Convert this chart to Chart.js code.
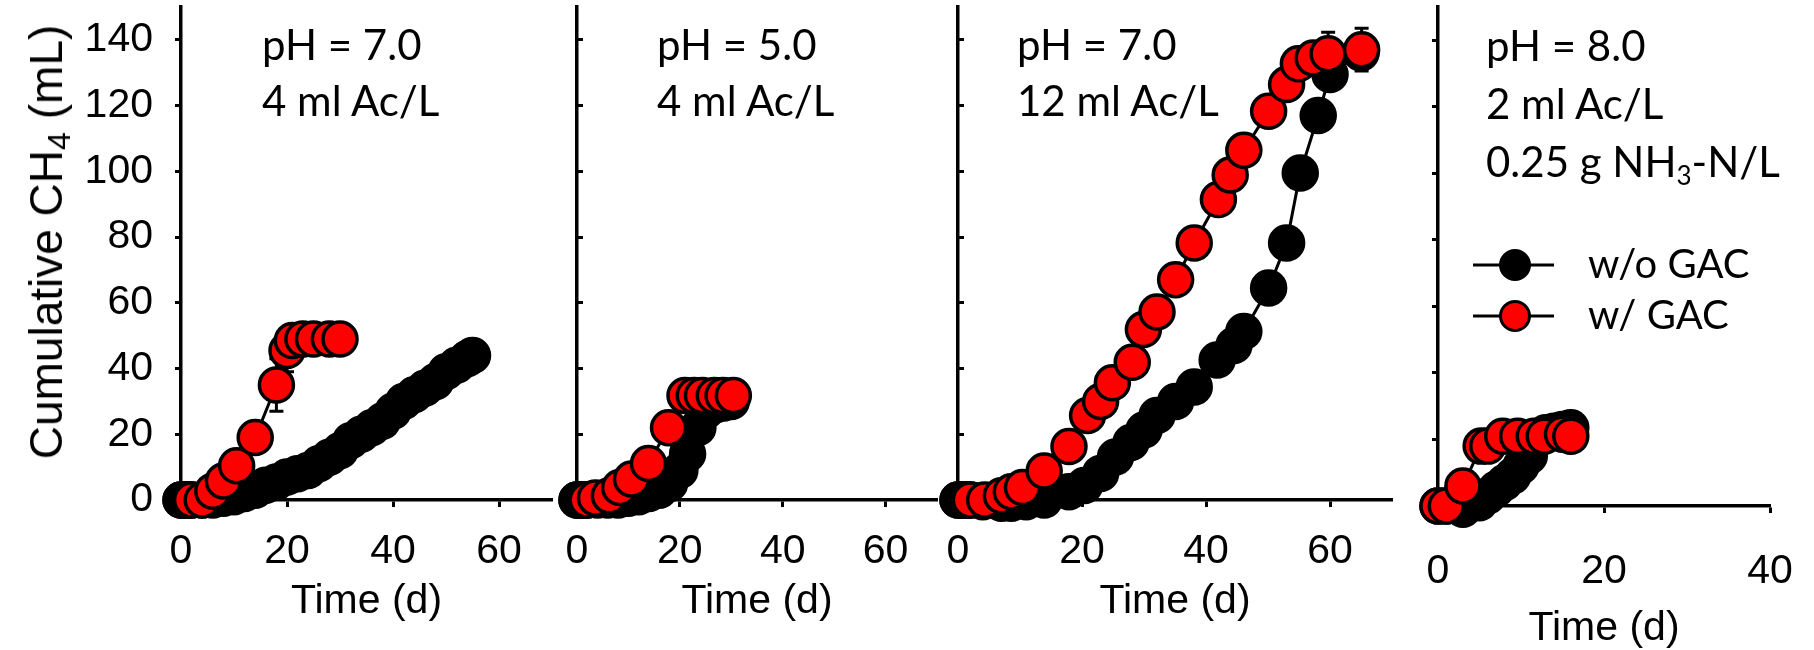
<!DOCTYPE html>
<html>
<head>
<meta charset="utf-8">
<title>Cumulative CH4</title>
<script src="https://cdn.jsdelivr.net/npm/chart.js@4.4.1/dist/chart.umd.min.js"></script>
<style>
  html, body { margin: 0; padding: 0; background: #fff; }
  #wrap { position: relative; width: 1814px; height: 650px; overflow: hidden; }
  #wrap canvas { position: absolute; left: 0; top: 0; }
  .note { position: absolute; top: 16px; font-family: Lato, "Open Sans", sans-serif; font-size: 42px; line-height: 56px; color: #000; white-space: nowrap; }
  .note sub { font-size: 0.62em; line-height: 0; vertical-align: -0.3em; }
  #ytitle { position: absolute; left: 46px; top: 242px; transform: translate(-50%, -50%) rotate(-90deg);
    font-family: "Liberation Sans", Arial, sans-serif; font-size: 46px; white-space: nowrap; color: #000; }
  #ytitle sub { font-size: 0.7em; line-height: 0; vertical-align: -0.25em; }
</style>
</head>
<body>
<div id="wrap">
  <canvas id="c1" width="1814" height="650"></canvas>
  <canvas id="c2" width="1814" height="650"></canvas>
  <canvas id="c3" width="1814" height="650"></canvas>
  <canvas id="c4" width="1814" height="650"></canvas>
  <div id="ytitle">Cumulative CH<sub>4</sub> (mL)</div>
  <div class="note" style="left:262px">pH = 7.0<br>4 ml Ac/L</div>
  <div class="note" style="left:657px">pH = 5.0<br>4 ml Ac/L</div>
  <div class="note" style="left:1017px">pH = 7.0<br>12 ml Ac/L</div>
  <div class="note" style="left:1486px; line-height:58px">pH = 8.0<br>2 ml Ac/L<br>0.25 g NH<sub>3</sub>-N/L</div>
</div>
<script>
(function () {
  'use strict';

  const SERIES_LABELS = ['w/o GAC', 'w/ GAC'];

  // panel 1: pH 7.0, 4 ml Ac/L
  const P1_TIME_NOGAC = [0, 0.5, 1, 1.5, 2, 4, 6, 8, 10, 12, 14, 16, 18, 20, 22, 24, 26, 28, 30, 32, 34, 36, 38, 40, 42, 44, 46, 48, 50, 52, 54, 55];
  const P1_CH4_NOGAC  = [0, 0, 0, 0, 0, 0, 0, 0.5, 1, 2, 3, 4.5, 5.5, 7, 8, 9, 11, 13, 15, 18, 20, 22, 24, 27, 30, 32, 34, 36, 39, 41, 43, 44];
  const P1_TIME_GAC   = [0, 0.5, 1, 1.5, 2, 4, 6, 8, 10.5, 14, 18, 20, 21, 23, 25, 28, 30];
  const P1_CH4_GAC    = [0, 0, 0, 0, 0, 0, 2.7, 5.8, 10.4, 19, 35, 45.5, 48.5, 49, 49, 49, 49];
  const P1_ERR_GAC    = [0, 0, 0, 0, 0, 0, 0, 0, 0, 0, 8, 6.5, 0, 0, 0, 0, 0];

  // panel 2: pH 5.0, 4 ml Ac/L
  const P2_TIME_NOGAC = [0, 0.5, 1, 1.5, 2, 4, 6, 8, 10, 12, 14, 16, 18, 20, 21.5, 23.5, 25, 27, 28.5, 30];
  const P2_CH4_NOGAC  = [0, 0, 0, 0, 0, 0, 0, 0, 0.5, 1, 2, 3, 5, 9, 14, 22, 27, 29, 29.5, 30];
  const P2_TIME_GAC   = [0, 0.5, 1, 1.5, 2, 3.6, 6.3, 8.3, 10.6, 13.9, 17.8, 21, 22.8, 24.4, 26.7, 28.4, 30.4];
  const P2_CH4_GAC    = [0, 0, 0, 0, 0, 0.6, 1.3, 3.8, 6.4, 11.1, 22, 31.8, 31.8, 31.8, 31.8, 31.8, 31.8];

  // panel 3: pH 7.0, 12 ml Ac/L
  const P3_TIME_NOGAC = [0, 0.5, 1, 1.5, 2, 4, 7, 8.6, 11, 13.9, 17.9, 20.4, 23, 25.4, 27.9, 30, 32.1, 35.1, 38.1, 41.8, 44.5, 46.1, 50.1, 53, 55.2, 58.1, 60, 65];
  const P3_CH4_NOGAC  = [0, 0, 0, 0, 0, -0.5, -1, -1, -0.5, 0, 2.5, 4.4, 8.1, 13.1, 17.5, 21.3, 25.7, 30, 34.4, 42.6, 47, 51.3, 64.5, 78.2, 99.5, 117, 129.5, 136];
  const P3_TIME_GAC   = [0, 0.5, 1, 1.5, 2, 4.3, 7, 8.6, 10.4, 13.9, 17.9, 20.9, 23, 24.9, 28.1, 29.9, 32.1, 35.1, 38.1, 42, 43.9, 46.1, 50.1, 53, 54.9, 57.3, 59.7, 65.1];
  const P3_CH4_GAC    = [0, 0, 0, 0, 0, 0, 1.3, 2.5, 3.8, 8.8, 16.3, 25.7, 30, 35.7, 41.9, 51.9, 57.2, 67, 78.2, 91.4, 98.9, 106.4, 118.3, 126.4, 132.7, 134.5, 135.8, 137];
  const P3_ERR_GAC    = [0, 0, 0, 0, 0, 0, 0, 0, 0, 0, 0, 0, 0, 0, 0, 0, 0, 0, 0, 0, 0, 0, 0, 0, 0, 0, 6.5, 6.5];

  // panel 4: pH 8.0, 2 ml Ac/L, 0.25 g NH3-N/L
  const P4_TIME_NOGAC = [0, 1, 3, 5, 6, 7, 8, 9, 10, 11, 13, 14, 15, 16];
  const P4_CH4_NOGAC  = [0, 0, -1, 1, 3, 5, 7, 9, 12, 15, 22, 22.5, 23, 23.5];
  const P4_TIME_GAC   = [0, 1, 3, 5.2, 6, 7.8, 9.6, 11.6, 12.8, 15, 16];
  const P4_CH4_GAC    = [0, 0, 6, 18, 18, 21, 21, 21, 21, 21.6, 21];

  const X_TICK_STEP = 20;
  const Y_MIN = 0, Y_MAX = 150, Y_TICK_STEP = 20;

  const AXIS_FONT = { family: '"Liberation Sans", Arial, sans-serif', size: 41 };
  const RED = '#ff0000';

  function toPoints(xs, ys) {
    return xs.map((x, i) => ({ x: x, y: ys[i] }));
  }

  // vertical error bars, drawn under the markers
  const errorBarPlugin = {
    id: 'errorBars',
    beforeDatasetsDraw(chart) {
      const ctx = chart.ctx;
      const xs = chart.scales.x, ys = chart.scales.y;
      ctx.save();
      ctx.strokeStyle = '#000';
      ctx.lineWidth = 3;
      chart.data.datasets.forEach((ds) => {
        if (!ds.errorBars) return;
        ds.data.forEach((pt, i) => {
          const e = ds.errorBars[i];
          if (!e) return;
          const px = xs.getPixelForValue(pt.x);
          const top = ys.getPixelForValue(pt.y + e);
          const bot = ys.getPixelForValue(pt.y - e);
          ctx.beginPath();
          ctx.moveTo(px, top); ctx.lineTo(px, bot);
          ctx.moveTo(px - 7, top); ctx.lineTo(px + 7, top);
          ctx.moveTo(px - 7, bot); ctx.lineTo(px + 7, bot);
          ctx.stroke();
        });
      });
      ctx.restore();
    }
  };

  // legend inside the last panel: line through marker, then label
  const insideLegendPlugin = {
    id: 'insideLegend',
    afterDraw(chart, args, opts) {
      if (!opts || !opts.show) return;
      const ctx = chart.ctx;
      const area = chart.chartArea;
      const x0 = area.left + 35, x1 = area.left + 116, cx = area.left + 77;
      ctx.save();
      chart.data.datasets.forEach((ds, i) => {
        const y = opts.rows[i];
        ctx.strokeStyle = '#000';
        ctx.lineWidth = 3;
        ctx.beginPath(); ctx.moveTo(x0, y); ctx.lineTo(x1, y); ctx.stroke();
        ctx.beginPath(); ctx.arc(cx, y, 14.5, 0, Math.PI * 2);
        ctx.fillStyle = ds.pointBackgroundColor; ctx.fill();
        ctx.lineWidth = 3; ctx.stroke();
        ctx.fillStyle = '#000';
        ctx.font = '40px Lato, "Open Sans", sans-serif';
        ctx.textBaseline = 'middle';
        ctx.fillText(ds.label, area.left + 150, y);
      });
      ctx.restore();
    }
  };

  function makePanel(id, p) {
    const ds = (label, xs, ys, fill, order, err) => ({
      label: label,
      data: toPoints(xs, ys),
      errorBars: err || null,
      borderColor: '#000',
      borderWidth: 3,
      pointBackgroundColor: fill,
      pointBorderColor: '#000',
      pointBorderWidth: 3.5,
      pointRadius: 17,
      tension: 0,
      clip: false,
      order: order
    });
    const yw = p.yw || 10;

    return new Chart(document.getElementById(id), {
      type: 'line',
      data: {
        datasets: [
          ds(SERIES_LABELS[0], p.t0, p.y0, '#000', 2, p.e0),
          ds(SERIES_LABELS[1], p.t1, p.y1, RED, 1, p.e1)
        ]
      },
      options: {
        responsive: false,
        animation: false,
        devicePixelRatio: 1,
        layout: {
          autoPadding: false,
          padding: { left: p.left - yw, right: 1814 - p.right, top: p.top, bottom: 650 - p.bottom - p.xh }
        },
        plugins: {
          legend: { display: false },
          tooltip: { enabled: false },
          insideLegend: { show: !!p.legend, rows: p.legend || [] }
        },
        scales: {
          x: {
            type: 'linear',
            min: 0,
            max: p.xMax,
            ticks: { stepSize: X_TICK_STEP, includeBounds: false, font: AXIS_FONT, color: '#000', padding: p.xPad, maxRotation: 0 },
            grid: { drawOnChartArea: false, drawTicks: true, tickLength: 7, tickWidth: 3, tickColor: '#000' },
            border: { display: true, color: '#000', width: 3.5 },
            title: { display: true, text: 'Time (d)', font: AXIS_FONT, color: '#000', padding: 0 },
            afterFit: (s) => { s.height = p.xh; s.paddingLeft = 0; s.paddingRight = 0; }
          },
          y: {
            min: Y_MIN,
            max: Y_MAX,
            ticks: { stepSize: Y_TICK_STEP, includeBounds: false, display: !!p.yLabels, font: AXIS_FONT, color: '#000', padding: 22 },
            grid: { drawOnChartArea: false, drawTicks: true, tickLength: p.yTick, tickWidth: 3, tickColor: '#000' },
            border: { display: true, color: '#000', width: 3.5 },
            afterFit: (s) => { s.width = yw; s.paddingTop = 0; s.paddingBottom = 0; }
          }
        }
      },
      plugins: [errorBarPlugin, insideLegendPlugin]
    });
  }

  function init() {
    makePanel('c1', {
      t0: P1_TIME_NOGAC, y0: P1_CH4_NOGAC, t1: P1_TIME_GAC, y1: P1_CH4_GAC, e1: P1_ERR_GAC,
      xMax: 70, left: 181, right: 552, top: 7, bottom: 500, xh: 126, xPad: 20, yLabels: true, yTick: 6, yw: 181
    });
    makePanel('c2', {
      t0: P2_TIME_NOGAC, y0: P2_CH4_NOGAC, t1: P2_TIME_GAC, y1: P2_CH4_GAC,
      xMax: 70, left: 577, right: 937, top: 7, bottom: 500, xh: 126, xPad: 20, yTick: -6
    });
    makePanel('c3', {
      t0: P3_TIME_NOGAC, y0: P3_CH4_NOGAC, t1: P3_TIME_GAC, y1: P3_CH4_GAC, e1: P3_ERR_GAC,
      xMax: 70, left: 958, right: 1392, top: 7, bottom: 500, xh: 126, xPad: 20, yTick: -6
    });
    makePanel('c4', {
      t0: P4_TIME_NOGAC, y0: P4_CH4_NOGAC, t1: P4_TIME_GAC, y1: P4_CH4_GAC,
      xMax: 40, left: 1438, right: 1770, top: 7, bottom: 506, xh: 147, xPad: 34, yTick: 6,
      legend: [265, 316]
    });
  }

  if (document.readyState === 'loading') document.addEventListener('DOMContentLoaded', init); else init();
})();
</script>
</body>
</html>
